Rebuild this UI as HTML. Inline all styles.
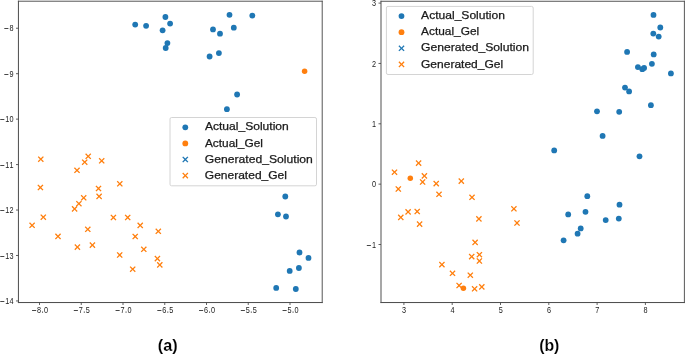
<!DOCTYPE html>
<html><head><meta charset="utf-8"><style>
html,body{margin:0;padding:0;background:#fff;width:685px;height:354px;overflow:hidden}
svg{display:block;will-change:transform}
</style></head><body>
<svg width="685" height="354" viewBox="0 0 685 354">
<style>
text{font-kerning:none}
.t{font-family:"Liberation Sans",sans-serif;font-size:8.4px;fill:#1a1a1a}
.l{font-family:"Liberation Sans",sans-serif;font-size:11.0px;fill:#1a1a1a;stroke:#1a1a1a;stroke-width:0.25px}
.c{font-family:"Liberation Sans",sans-serif;font-size:16px;font-weight:bold;fill:#000;stroke:#fff;stroke-width:0.12px}
</style>
<rect width="685" height="354" fill="#fff"/>
<circle cx="135.2" cy="24.6" r="2.9" fill="#1f77b4"/><circle cx="146.1" cy="25.8" r="2.9" fill="#1f77b4"/><circle cx="165.4" cy="17.0" r="2.9" fill="#1f77b4"/><circle cx="170.1" cy="23.6" r="2.9" fill="#1f77b4"/><circle cx="162.6" cy="30.3" r="2.9" fill="#1f77b4"/><circle cx="167.4" cy="43.1" r="2.9" fill="#1f77b4"/><circle cx="165.7" cy="48.0" r="2.9" fill="#1f77b4"/><circle cx="229.5" cy="14.8" r="2.9" fill="#1f77b4"/><circle cx="252.3" cy="15.6" r="2.9" fill="#1f77b4"/><circle cx="213.0" cy="29.4" r="2.9" fill="#1f77b4"/><circle cx="220.0" cy="33.7" r="2.9" fill="#1f77b4"/><circle cx="233.8" cy="27.7" r="2.9" fill="#1f77b4"/><circle cx="218.9" cy="53.1" r="2.9" fill="#1f77b4"/><circle cx="209.6" cy="56.5" r="2.9" fill="#1f77b4"/><circle cx="237.1" cy="94.5" r="2.9" fill="#1f77b4"/><circle cx="226.9" cy="109.2" r="2.9" fill="#1f77b4"/><circle cx="285.3" cy="196.5" r="2.9" fill="#1f77b4"/><circle cx="277.9" cy="214.3" r="2.9" fill="#1f77b4"/><circle cx="286.0" cy="216.5" r="2.9" fill="#1f77b4"/><circle cx="299.5" cy="252.5" r="2.9" fill="#1f77b4"/><circle cx="308.5" cy="257.9" r="2.9" fill="#1f77b4"/><circle cx="298.9" cy="268.0" r="2.9" fill="#1f77b4"/><circle cx="289.7" cy="270.9" r="2.9" fill="#1f77b4"/><circle cx="276.2" cy="287.9" r="2.9" fill="#1f77b4"/><circle cx="295.8" cy="289.0" r="2.9" fill="#1f77b4"/><circle cx="304.6" cy="71.3" r="2.75" fill="#ff7f0e"/><path d="M41.72 159.20L43.86 161.34L42.94 162.26L40.80 160.12L38.66 162.26L37.74 161.34L39.88 159.20L37.74 157.06L38.66 156.14L40.80 158.28L42.94 156.14L43.86 157.06ZM89.12 156.30L91.26 158.44L90.34 159.36L88.20 157.22L86.06 159.36L85.14 158.44L87.28 156.30L85.14 154.16L86.06 153.24L88.20 155.38L90.34 153.24L91.26 154.16ZM85.62 162.20L87.76 164.34L86.84 165.26L84.70 163.12L82.56 165.26L81.64 164.34L83.78 162.20L81.64 160.06L82.56 159.14L84.70 161.28L86.84 159.14L87.76 160.06ZM102.62 160.80L104.76 162.94L103.84 163.86L101.70 161.72L99.56 163.86L98.64 162.94L100.78 160.80L98.64 158.66L99.56 157.74L101.70 159.88L103.84 157.74L104.76 158.66ZM77.92 170.30L80.06 172.44L79.14 173.36L77.00 171.22L74.86 173.36L73.94 172.44L76.08 170.30L73.94 168.16L74.86 167.24L77.00 169.38L79.14 167.24L80.06 168.16ZM41.32 187.50L43.46 189.64L42.54 190.56L40.40 188.42L38.26 190.56L37.34 189.64L39.48 187.50L37.34 185.36L38.26 184.44L40.40 186.58L42.54 184.44L43.46 185.36ZM99.42 188.50L101.56 190.64L100.64 191.56L98.50 189.42L96.36 191.56L95.44 190.64L97.58 188.50L95.44 186.36L96.36 185.44L98.50 187.58L100.64 185.44L101.56 186.36ZM100.02 196.40L102.16 198.54L101.24 199.46L99.10 197.32L96.96 199.46L96.04 198.54L98.18 196.40L96.04 194.26L96.96 193.34L99.10 195.48L101.24 193.34L102.16 194.26ZM84.62 197.80L86.76 199.94L85.84 200.86L83.70 198.72L81.56 200.86L80.64 199.94L82.78 197.80L80.64 195.66L81.56 194.74L83.70 196.88L85.84 194.74L86.76 195.66ZM79.82 203.70L81.96 205.84L81.04 206.76L78.90 204.62L76.76 206.76L75.84 205.84L77.98 203.70L75.84 201.56L76.76 200.64L78.90 202.78L81.04 200.64L81.96 201.56ZM75.52 208.90L77.66 211.04L76.74 211.96L74.60 209.82L72.46 211.96L71.54 211.04L73.68 208.90L71.54 206.76L72.46 205.84L74.60 207.98L76.74 205.84L77.66 206.76ZM44.22 217.20L46.36 219.34L45.44 220.26L43.30 218.12L41.16 220.26L40.24 219.34L42.38 217.20L40.24 215.06L41.16 214.14L43.30 216.28L45.44 214.14L46.36 215.06ZM33.02 225.30L35.16 227.44L34.24 228.36L32.10 226.22L29.96 228.36L29.04 227.44L31.18 225.30L29.04 223.16L29.96 222.24L32.10 224.38L34.24 222.24L35.16 223.16ZM58.92 236.40L61.06 238.54L60.14 239.46L58.00 237.32L55.86 239.46L54.94 238.54L57.08 236.40L54.94 234.26L55.86 233.34L58.00 235.48L60.14 233.34L61.06 234.26ZM88.72 229.30L90.86 231.44L89.94 232.36L87.80 230.22L85.66 232.36L84.74 231.44L86.88 229.30L84.74 227.16L85.66 226.24L87.80 228.38L89.94 226.24L90.86 227.16ZM78.32 247.10L80.46 249.24L79.54 250.16L77.40 248.02L75.26 250.16L74.34 249.24L76.48 247.10L74.34 244.96L75.26 244.04L77.40 246.18L79.54 244.04L80.46 244.96ZM93.32 245.10L95.46 247.24L94.54 248.16L92.40 246.02L90.26 248.16L89.34 247.24L91.48 245.10L89.34 242.96L90.26 242.04L92.40 244.18L94.54 242.04L95.46 242.96ZM120.72 183.80L122.86 185.94L121.94 186.86L119.80 184.72L117.66 186.86L116.74 185.94L118.88 183.80L116.74 181.66L117.66 180.74L119.80 182.88L121.94 180.74L122.86 181.66ZM114.32 217.50L116.46 219.64L115.54 220.56L113.40 218.42L111.26 220.56L110.34 219.64L112.48 217.50L110.34 215.36L111.26 214.44L113.40 216.58L115.54 214.44L116.46 215.36ZM128.62 217.50L130.76 219.64L129.84 220.56L127.70 218.42L125.56 220.56L124.64 219.64L126.78 217.50L124.64 215.36L125.56 214.44L127.70 216.58L129.84 214.44L130.76 215.36ZM141.12 225.40L143.26 227.54L142.34 228.46L140.20 226.32L138.06 228.46L137.14 227.54L139.28 225.40L137.14 223.26L138.06 222.34L140.20 224.48L142.34 222.34L143.26 223.26ZM159.22 231.30L161.36 233.44L160.44 234.36L158.30 232.22L156.16 234.36L155.24 233.44L157.38 231.30L155.24 229.16L156.16 228.24L158.30 230.38L160.44 228.24L161.36 229.16ZM136.12 236.50L138.26 238.64L137.34 239.56L135.20 237.42L133.06 239.56L132.14 238.64L134.28 236.50L132.14 234.36L133.06 233.44L135.20 235.58L137.34 233.44L138.26 234.36ZM144.72 249.30L146.86 251.44L145.94 252.36L143.80 250.22L141.66 252.36L140.74 251.44L142.88 249.30L140.74 247.16L141.66 246.24L143.80 248.38L145.94 246.24L146.86 247.16ZM120.62 255.00L122.76 257.14L121.84 258.06L119.70 255.92L117.56 258.06L116.64 257.14L118.78 255.00L116.64 252.86L117.56 251.94L119.70 254.08L121.84 251.94L122.76 252.86ZM158.32 258.60L160.46 260.74L159.54 261.66L157.40 259.52L155.26 261.66L154.34 260.74L156.48 258.60L154.34 256.46L155.26 255.54L157.40 257.68L159.54 255.54L160.46 256.46ZM160.72 264.90L162.86 267.04L161.94 267.96L159.80 265.82L157.66 267.96L156.74 267.04L158.88 264.90L156.74 262.76L157.66 261.84L159.80 263.98L161.94 261.84L162.86 262.76ZM133.62 269.20L135.76 271.34L134.84 272.26L132.70 270.12L130.56 272.26L129.64 271.34L131.78 269.20L129.64 267.06L130.56 266.14L132.70 268.28L134.84 266.14L135.76 267.06Z" fill="#ff7f0e"/>
<circle cx="653.5" cy="14.9" r="2.9" fill="#1f77b4"/><circle cx="660.3" cy="27.5" r="2.9" fill="#1f77b4"/><circle cx="653.3" cy="33.6" r="2.9" fill="#1f77b4"/><circle cx="658.7" cy="36.6" r="2.9" fill="#1f77b4"/><circle cx="627.1" cy="51.9" r="2.9" fill="#1f77b4"/><circle cx="653.7" cy="54.4" r="2.9" fill="#1f77b4"/><circle cx="651.9" cy="63.8" r="2.9" fill="#1f77b4"/><circle cx="637.9" cy="67.1" r="2.9" fill="#1f77b4"/><circle cx="644.1" cy="67.9" r="2.9" fill="#1f77b4"/><circle cx="642.3" cy="69.2" r="2.9" fill="#1f77b4"/><circle cx="670.9" cy="73.4" r="2.9" fill="#1f77b4"/><circle cx="625.0" cy="87.6" r="2.9" fill="#1f77b4"/><circle cx="629.1" cy="91.4" r="2.9" fill="#1f77b4"/><circle cx="650.9" cy="105.2" r="2.9" fill="#1f77b4"/><circle cx="597.0" cy="111.3" r="2.9" fill="#1f77b4"/><circle cx="619.2" cy="111.8" r="2.9" fill="#1f77b4"/><circle cx="602.6" cy="135.9" r="2.9" fill="#1f77b4"/><circle cx="639.5" cy="156.3" r="2.9" fill="#1f77b4"/><circle cx="554.2" cy="150.4" r="2.9" fill="#1f77b4"/><circle cx="587.3" cy="196.2" r="2.9" fill="#1f77b4"/><circle cx="619.5" cy="204.7" r="2.9" fill="#1f77b4"/><circle cx="568.2" cy="214.4" r="2.9" fill="#1f77b4"/><circle cx="585.5" cy="211.8" r="2.9" fill="#1f77b4"/><circle cx="605.7" cy="220.1" r="2.9" fill="#1f77b4"/><circle cx="618.8" cy="218.6" r="2.9" fill="#1f77b4"/><circle cx="580.7" cy="228.4" r="2.9" fill="#1f77b4"/><circle cx="577.6" cy="233.7" r="2.9" fill="#1f77b4"/><circle cx="563.6" cy="240.3" r="2.9" fill="#1f77b4"/><circle cx="410.3" cy="178.3" r="2.75" fill="#ff7f0e"/><circle cx="463.4" cy="288.3" r="2.75" fill="#ff7f0e"/><path d="M419.52 163.10L421.66 165.24L420.74 166.16L418.60 164.02L416.46 166.16L415.54 165.24L417.68 163.10L415.54 160.96L416.46 160.04L418.60 162.18L420.74 160.04L421.66 160.96ZM395.42 172.20L397.56 174.34L396.64 175.26L394.50 173.12L392.36 175.26L391.44 174.34L393.58 172.20L391.44 170.06L392.36 169.14L394.50 171.28L396.64 169.14L397.56 170.06ZM425.32 175.90L427.46 178.04L426.54 178.96L424.40 176.82L422.26 178.96L421.34 178.04L423.48 175.90L421.34 173.76L422.26 172.84L424.40 174.98L426.54 172.84L427.46 173.76ZM423.52 182.00L425.66 184.14L424.74 185.06L422.60 182.92L420.46 185.06L419.54 184.14L421.68 182.00L419.54 179.86L420.46 178.94L422.60 181.08L424.74 178.94L425.66 179.86ZM437.12 183.60L439.26 185.74L438.34 186.66L436.20 184.52L434.06 186.66L433.14 185.74L435.28 183.60L433.14 181.46L434.06 180.54L436.20 182.68L438.34 180.54L439.26 181.46ZM462.22 181.10L464.36 183.24L463.44 184.16L461.30 182.02L459.16 184.16L458.24 183.24L460.38 181.10L458.24 178.96L459.16 178.04L461.30 180.18L463.44 178.04L464.36 178.96ZM399.22 189.00L401.36 191.14L400.44 192.06L398.30 189.92L396.16 192.06L395.24 191.14L397.38 189.00L395.24 186.86L396.16 185.94L398.30 188.08L400.44 185.94L401.36 186.86ZM439.92 194.30L442.06 196.44L441.14 197.36L439.00 195.22L436.86 197.36L435.94 196.44L438.08 194.30L435.94 192.16L436.86 191.24L439.00 193.38L441.14 191.24L442.06 192.16ZM472.92 197.30L475.06 199.44L474.14 200.36L472.00 198.22L469.86 200.36L468.94 199.44L471.08 197.30L468.94 195.16L469.86 194.24L472.00 196.38L474.14 194.24L475.06 195.16ZM409.02 211.90L411.16 214.04L410.24 214.96L408.10 212.82L405.96 214.96L405.04 214.04L407.18 211.90L405.04 209.76L405.96 208.84L408.10 210.98L410.24 208.84L411.16 209.76ZM418.12 211.50L420.26 213.64L419.34 214.56L417.20 212.42L415.06 214.56L414.14 213.64L416.28 211.50L414.14 209.36L415.06 208.44L417.20 210.58L419.34 208.44L420.26 209.36ZM401.72 217.40L403.86 219.54L402.94 220.46L400.80 218.32L398.66 220.46L397.74 219.54L399.88 217.40L397.74 215.26L398.66 214.34L400.80 216.48L402.94 214.34L403.86 215.26ZM420.52 224.10L422.66 226.24L421.74 227.16L419.60 225.02L417.46 227.16L416.54 226.24L418.68 224.10L416.54 221.96L417.46 221.04L419.60 223.18L421.74 221.04L422.66 221.96ZM514.82 208.80L516.96 210.94L516.04 211.86L513.90 209.72L511.76 211.86L510.84 210.94L512.98 208.80L510.84 206.66L511.76 205.74L513.90 207.88L516.04 205.74L516.96 206.66ZM479.82 218.90L481.96 221.04L481.04 221.96L478.90 219.82L476.76 221.96L475.84 221.04L477.98 218.90L475.84 216.76L476.76 215.84L478.90 217.98L481.04 215.84L481.96 216.76ZM517.92 223.00L520.06 225.14L519.14 226.06L517.00 223.92L514.86 226.06L513.94 225.14L516.08 223.00L513.94 220.86L514.86 219.94L517.00 222.08L519.14 219.94L520.06 220.86ZM476.02 242.40L478.16 244.54L477.24 245.46L475.10 243.32L472.96 245.46L472.04 244.54L474.18 242.40L472.04 240.26L472.96 239.34L475.10 241.48L477.24 239.34L478.16 240.26ZM472.62 256.60L474.76 258.74L473.84 259.66L471.70 257.52L469.56 259.66L468.64 258.74L470.78 256.60L468.64 254.46L469.56 253.54L471.70 255.68L473.84 253.54L474.76 254.46ZM480.32 254.70L482.46 256.84L481.54 257.76L479.40 255.62L477.26 257.76L476.34 256.84L478.48 254.70L476.34 252.56L477.26 251.64L479.40 253.78L481.54 251.64L482.46 252.56ZM480.32 261.00L482.46 263.14L481.54 264.06L479.40 261.92L477.26 264.06L476.34 263.14L478.48 261.00L476.34 258.86L477.26 257.94L479.40 260.08L481.54 257.94L482.46 258.86ZM442.82 264.60L444.96 266.74L444.04 267.66L441.90 265.52L439.76 267.66L438.84 266.74L440.98 264.60L438.84 262.46L439.76 261.54L441.90 263.68L444.04 261.54L444.96 262.46ZM453.42 273.30L455.56 275.44L454.64 276.36L452.50 274.22L450.36 276.36L449.44 275.44L451.58 273.30L449.44 271.16L450.36 270.24L452.50 272.38L454.64 270.24L455.56 271.16ZM471.22 275.20L473.36 277.34L472.44 278.26L470.30 276.12L468.16 278.26L467.24 277.34L469.38 275.20L467.24 273.06L468.16 272.14L470.30 274.28L472.44 272.14L473.36 273.06ZM460.02 285.50L462.16 287.64L461.24 288.56L459.10 286.42L456.96 288.56L456.04 287.64L458.18 285.50L456.04 283.36L456.96 282.44L459.10 284.58L461.24 282.44L462.16 283.36ZM475.52 288.80L477.66 290.94L476.74 291.86L474.60 289.72L472.46 291.86L471.54 290.94L473.68 288.80L471.54 286.66L472.46 285.74L474.60 287.88L476.74 285.74L477.66 286.66ZM482.72 286.90L484.86 289.04L483.94 289.96L481.80 287.82L479.66 289.96L478.74 289.04L480.88 286.90L478.74 284.76L479.66 283.84L481.80 285.98L483.94 283.84L484.86 284.76Z" fill="#ff7f0e"/>
<rect x="170.0" y="117.5" width="146.5" height="68.3" rx="1.6" ry="1.6" fill="#fff" fill-opacity="0.8" stroke="#d4d4d4" stroke-width="1.0"/><circle cx="185.3" cy="127.30" r="2.9" fill="#1f77b4"/><text x="204.90" y="130.40" class="l" textLength="83.88" lengthAdjust="spacingAndGlyphs">Actual_Solution</text><circle cx="185.3" cy="143.40" r="2.9" fill="#ff7f0e"/><text x="204.90" y="146.50" class="l" textLength="58.04" lengthAdjust="spacingAndGlyphs">Actual_Gel</text><path d="M186.22 159.50L188.36 161.64L187.44 162.56L185.30 160.42L183.16 162.56L182.24 161.64L184.38 159.50L182.24 157.36L183.16 156.44L185.30 158.58L187.44 156.44L188.36 157.36Z" fill="#1f77b4"/><text x="204.79" y="162.60" class="l" textLength="108.09" lengthAdjust="spacingAndGlyphs">Generated_Solution</text><path d="M186.22 175.60L188.36 177.74L187.44 178.66L185.30 176.52L183.16 178.66L182.24 177.74L184.38 175.60L182.24 173.46L183.16 172.54L185.30 174.68L187.44 172.54L188.36 173.46Z" fill="#ff7f0e"/><text x="204.80" y="178.70" class="l" textLength="82.15" lengthAdjust="spacingAndGlyphs">Generated_Gel</text>
<rect x="386.4" y="6.4" width="146.8" height="68.1" rx="1.6" ry="1.6" fill="#fff" fill-opacity="0.8" stroke="#d4d4d4" stroke-width="1.0"/><circle cx="401.5" cy="16.10" r="2.9" fill="#1f77b4"/><text x="421.10" y="19.20" class="l" textLength="83.88" lengthAdjust="spacingAndGlyphs">Actual_Solution</text><circle cx="401.5" cy="32.20" r="2.9" fill="#ff7f0e"/><text x="421.10" y="35.30" class="l" textLength="58.04" lengthAdjust="spacingAndGlyphs">Actual_Gel</text><path d="M402.42 48.30L404.56 50.44L403.64 51.36L401.50 49.22L399.36 51.36L398.44 50.44L400.58 48.30L398.44 46.16L399.36 45.24L401.50 47.38L403.64 45.24L404.56 46.16Z" fill="#1f77b4"/><text x="420.99" y="51.40" class="l" textLength="108.09" lengthAdjust="spacingAndGlyphs">Generated_Solution</text><path d="M402.42 64.40L404.56 66.54L403.64 67.46L401.50 65.32L399.36 67.46L398.44 66.54L400.58 64.40L398.44 62.26L399.36 61.34L401.50 63.48L403.64 61.34L404.56 62.26Z" fill="#ff7f0e"/><text x="421.00" y="67.50" class="l" textLength="82.15" lengthAdjust="spacingAndGlyphs">Generated_Gel</text>
<rect x="17.920" y="0.715" width="304.765" height="0.970" fill="#505050"/><rect x="17.920" y="301.995" width="304.765" height="1.050" fill="#505050"/><rect x="17.920" y="0.715" width="1.020" height="302.330" fill="#505050"/><rect x="321.715" y="0.715" width="0.970" height="302.330" fill="#505050"/>
<rect x="380.500" y="0.765" width="304.345" height="0.970" fill="#505050"/><rect x="380.500" y="301.995" width="304.345" height="1.050" fill="#505050"/><rect x="380.500" y="0.765" width="1.000" height="302.280" fill="#505050"/><rect x="683.895" y="0.765" width="0.950" height="302.280" fill="#505050"/>
<line x1="16.0" y1="28.24" x2="18.5" y2="28.24" stroke="#444" stroke-width="0.85"/><text x="9.45" y="31.44" class="t" textLength="4.06" lengthAdjust="spacingAndGlyphs">8</text><rect x="4.30" y="28.15" width="4.10" height="0.8" fill="#1a1a1a"/><line x1="16.0" y1="73.69" x2="18.5" y2="73.69" stroke="#444" stroke-width="0.85"/><text x="9.49" y="76.89" class="t" textLength="4.06" lengthAdjust="spacingAndGlyphs">9</text><rect x="4.30" y="74.15" width="4.10" height="0.8" fill="#1a1a1a"/><line x1="16.0" y1="119.14" x2="18.5" y2="119.14" stroke="#444" stroke-width="0.85"/><text x="5.33" y="122.34" class="t" textLength="4.06" lengthAdjust="spacingAndGlyphs">1</text><text x="9.49" y="122.34" class="t" textLength="4.06" lengthAdjust="spacingAndGlyphs">0</text><rect x="0.25" y="119.15" width="4.10" height="0.8" fill="#1a1a1a"/><line x1="16.0" y1="164.59000000000003" x2="18.5" y2="164.59000000000003" stroke="#444" stroke-width="0.85"/><text x="5.33" y="167.79" class="t" textLength="4.06" lengthAdjust="spacingAndGlyphs">1</text><text x="9.38" y="167.79" class="t" textLength="4.06" lengthAdjust="spacingAndGlyphs">1</text><rect x="0.25" y="165.15" width="4.10" height="0.8" fill="#1a1a1a"/><line x1="16.0" y1="210.04000000000002" x2="18.5" y2="210.04000000000002" stroke="#444" stroke-width="0.85"/><text x="5.33" y="213.24" class="t" textLength="4.06" lengthAdjust="spacingAndGlyphs">1</text><text x="9.45" y="213.24" class="t" textLength="4.06" lengthAdjust="spacingAndGlyphs">2</text><rect x="0.25" y="210.15" width="4.10" height="0.8" fill="#1a1a1a"/><line x1="16.0" y1="255.49" x2="18.5" y2="255.49" stroke="#444" stroke-width="0.85"/><text x="5.33" y="258.69" class="t" textLength="4.06" lengthAdjust="spacingAndGlyphs">1</text><text x="9.49" y="258.69" class="t" textLength="4.06" lengthAdjust="spacingAndGlyphs">3</text><rect x="0.25" y="256.15" width="4.10" height="0.8" fill="#1a1a1a"/><line x1="16.0" y1="300.94000000000005" x2="18.5" y2="300.94000000000005" stroke="#444" stroke-width="0.85"/><text x="5.33" y="304.14" class="t" textLength="4.06" lengthAdjust="spacingAndGlyphs">1</text><text x="9.49" y="304.14" class="t" textLength="4.06" lengthAdjust="spacingAndGlyphs">4</text><rect x="0.25" y="301.15" width="4.10" height="0.8" fill="#1a1a1a"/><line x1="39.5" y1="302.5" x2="39.5" y2="305.0" stroke="#444" stroke-width="0.85"/><text x="37.00" y="313.00" class="t" textLength="4.06" lengthAdjust="spacingAndGlyphs">8</text><rect x="42.05" y="311.60" width="1.0" height="1.0" fill="#1a1a1a"/><text x="43.94" y="313.00" class="t" textLength="4.06" lengthAdjust="spacingAndGlyphs">0</text><rect x="32.05" y="310.15" width="4.10" height="0.8" fill="#1a1a1a"/><line x1="81.25" y1="302.5" x2="81.25" y2="305.0" stroke="#444" stroke-width="0.85"/><text x="78.75" y="313.00" class="t" textLength="4.06" lengthAdjust="spacingAndGlyphs">7</text><rect x="83.80" y="311.60" width="1.0" height="1.0" fill="#1a1a1a"/><text x="85.65" y="313.00" class="t" textLength="4.06" lengthAdjust="spacingAndGlyphs">5</text><rect x="73.80" y="310.15" width="4.10" height="0.8" fill="#1a1a1a"/><line x1="123.0" y1="302.5" x2="123.0" y2="305.0" stroke="#444" stroke-width="0.85"/><text x="120.50" y="313.00" class="t" textLength="4.06" lengthAdjust="spacingAndGlyphs">7</text><rect x="125.55" y="311.60" width="1.0" height="1.0" fill="#1a1a1a"/><text x="127.44" y="313.00" class="t" textLength="4.06" lengthAdjust="spacingAndGlyphs">0</text><rect x="115.55" y="310.15" width="4.10" height="0.8" fill="#1a1a1a"/><line x1="164.75" y1="302.5" x2="164.75" y2="305.0" stroke="#444" stroke-width="0.85"/><text x="162.22" y="313.00" class="t" textLength="4.06" lengthAdjust="spacingAndGlyphs">6</text><rect x="167.30" y="311.60" width="1.0" height="1.0" fill="#1a1a1a"/><text x="169.15" y="313.00" class="t" textLength="4.06" lengthAdjust="spacingAndGlyphs">5</text><rect x="157.30" y="310.15" width="4.10" height="0.8" fill="#1a1a1a"/><line x1="206.5" y1="302.5" x2="206.5" y2="305.0" stroke="#444" stroke-width="0.85"/><text x="203.97" y="313.00" class="t" textLength="4.06" lengthAdjust="spacingAndGlyphs">6</text><rect x="209.05" y="311.60" width="1.0" height="1.0" fill="#1a1a1a"/><text x="210.94" y="313.00" class="t" textLength="4.06" lengthAdjust="spacingAndGlyphs">0</text><rect x="199.05" y="310.15" width="4.10" height="0.8" fill="#1a1a1a"/><line x1="248.25" y1="302.5" x2="248.25" y2="305.0" stroke="#444" stroke-width="0.85"/><text x="245.75" y="313.00" class="t" textLength="4.06" lengthAdjust="spacingAndGlyphs">5</text><rect x="250.80" y="311.60" width="1.0" height="1.0" fill="#1a1a1a"/><text x="252.65" y="313.00" class="t" textLength="4.06" lengthAdjust="spacingAndGlyphs">5</text><rect x="240.80" y="310.15" width="4.10" height="0.8" fill="#1a1a1a"/><line x1="290.0" y1="302.5" x2="290.0" y2="305.0" stroke="#444" stroke-width="0.85"/><text x="287.50" y="313.00" class="t" textLength="4.06" lengthAdjust="spacingAndGlyphs">5</text><rect x="292.55" y="311.60" width="1.0" height="1.0" fill="#1a1a1a"/><text x="294.44" y="313.00" class="t" textLength="4.06" lengthAdjust="spacingAndGlyphs">0</text><rect x="282.55" y="310.15" width="4.10" height="0.8" fill="#1a1a1a"/>
<line x1="378.5" y1="3.0999999999999943" x2="381.0" y2="3.0999999999999943" stroke="#444" stroke-width="0.85"/><text x="371.99" y="6.30" class="t" textLength="4.06" lengthAdjust="spacingAndGlyphs">3</text><line x1="378.5" y1="63.45" x2="381.0" y2="63.45" stroke="#444" stroke-width="0.85"/><text x="371.95" y="66.65" class="t" textLength="4.06" lengthAdjust="spacingAndGlyphs">2</text><line x1="378.5" y1="123.80000000000001" x2="381.0" y2="123.80000000000001" stroke="#444" stroke-width="0.85"/><text x="371.88" y="127.00" class="t" textLength="4.06" lengthAdjust="spacingAndGlyphs">1</text><line x1="378.5" y1="184.15" x2="381.0" y2="184.15" stroke="#444" stroke-width="0.85"/><text x="371.99" y="187.35" class="t" textLength="4.06" lengthAdjust="spacingAndGlyphs">0</text><line x1="378.5" y1="244.5" x2="381.0" y2="244.5" stroke="#444" stroke-width="0.85"/><text x="371.88" y="247.70" class="t" textLength="4.06" lengthAdjust="spacingAndGlyphs">1</text><rect x="366.80" y="245.15" width="4.10" height="0.8" fill="#1a1a1a"/><line x1="403.9" y1="302.5" x2="403.9" y2="305.0" stroke="#444" stroke-width="0.85"/><text x="402.09" y="313.00" class="t" textLength="4.06" lengthAdjust="spacingAndGlyphs">3</text><line x1="452.2" y1="302.5" x2="452.2" y2="305.0" stroke="#444" stroke-width="0.85"/><text x="450.39" y="313.00" class="t" textLength="4.06" lengthAdjust="spacingAndGlyphs">4</text><line x1="500.5" y1="302.5" x2="500.5" y2="305.0" stroke="#444" stroke-width="0.85"/><text x="498.65" y="313.00" class="t" textLength="4.06" lengthAdjust="spacingAndGlyphs">5</text><line x1="548.8" y1="302.5" x2="548.8" y2="305.0" stroke="#444" stroke-width="0.85"/><text x="546.92" y="313.00" class="t" textLength="4.06" lengthAdjust="spacingAndGlyphs">6</text><line x1="597.0999999999999" y1="302.5" x2="597.0999999999999" y2="305.0" stroke="#444" stroke-width="0.85"/><text x="595.25" y="313.00" class="t" textLength="4.06" lengthAdjust="spacingAndGlyphs">7</text><line x1="645.4" y1="302.5" x2="645.4" y2="305.0" stroke="#444" stroke-width="0.85"/><text x="643.55" y="313.00" class="t" textLength="4.06" lengthAdjust="spacingAndGlyphs">8</text>
<text x="157.75" y="350.90" class="c" textLength="19.85" lengthAdjust="spacingAndGlyphs">(a)</text>
<text x="539.17" y="350.80" class="c" textLength="20.21" lengthAdjust="spacingAndGlyphs">(b)</text>
</svg>
</body></html>
